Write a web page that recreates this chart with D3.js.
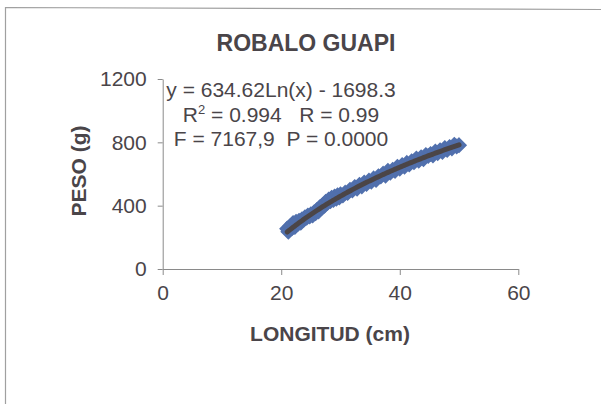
<!DOCTYPE html>
<html>
<head>
<meta charset="utf-8">
<script src="https://cdn.jsdelivr.net/npm/d3@7"></script>
<style>
  html, body { margin: 0; padding: 0; background: #fff; }
  svg { display: block; }
  text { font-family: "Liberation Sans", Arial, sans-serif; fill: #4a4549; }
</style>
</head>
<body>
<svg id="chart" width="601" height="404"></svg>
<script>
// Length (cm) and weight (g) of each measured fish
const longitud = [21, 21.2, 21.5, 21.8, 22, 22.3, 22.5, 22.8, 23, 23.3, 23.5, 23.8, 24, 24.3, 24.5, 24.8,
  25, 25.3, 25.5, 25.8, 26, 26.3, 26.5, 26.8, 27, 27.3, 27.5, 27.8, 28, 28.3, 28.5, 28.8, 29, 29.3, 29.5, 29.8,
  30, 30.4, 30.8, 31.2, 31.6, 32, 32.4, 32.8, 33.2, 33.6, 34, 34.4, 34.8, 35.2, 35.6, 36, 36.4, 36.8, 37.2, 37.6,
  38, 38.4, 38.8, 39.2, 39.6, 40, 40.4, 40.8, 41.2, 41.6, 42, 42.4, 42.8, 43.2, 43.6, 44, 44.4, 44.8, 45.2, 45.6,
  46, 46.4, 46.8, 47.2, 47.6, 48, 48.4, 48.8, 49.2, 49.6, 50];
const peso = [255, 236, 270, 258, 290, 266, 298, 284, 305, 292, 314, 312, 326, 324, 338, 332,
  346, 338, 356, 352, 372, 364, 390, 384, 404, 400, 424, 418, 438, 428, 450, 436, 458, 444, 466, 452,
  472, 464, 482, 480, 500, 496, 518, 508, 532, 522, 546, 538, 558, 552, 572, 562, 586, 584, 602, 590,
  620, 608, 626, 620, 646, 634, 656, 646, 670, 660, 680, 674, 698, 684, 706, 694, 720, 714, 726, 718,
  742, 732, 750, 740, 764, 752, 770, 762, 784, 774, 782];

// Logarithmic fit: y = a*ln(x) + b
const fitA = 634.62;
const fitB = -1698.3;
const statLines = ["y = 634.62Ln(x) - 1698.3", " = 0.994   R = 0.99", "F = 7167,9  P = 0.0000"];

const xTicks = [0, 20, 40, 60];
const yTicks = [0, 400, 800, 1200];

const svg = d3.select("#chart");

const x = d3.scaleLinear().domain([0, 60]).range([162.7, 518.3]);
const y = d3.scaleLinear().domain([0, 1200]).range([269, 79]);

// outer chart frame (left and top edges)
svg.append("path")
  .attr("d", "M5.5,404 L5.5,7.5 L601,9.5")
  .attr("fill", "none").attr("stroke", "#a0a0a0").attr("stroke-width", 1.2);

// title
svg.append("text").attr("x", 306).attr("y", 51)
  .attr("text-anchor", "middle").attr("font-size", 23).attr("font-weight", "bold")
  .text("ROBALO GUAPI");

// axes
const xAxis = d3.axisBottom(x).tickValues(xTicks).tickSize(6).tickSizeOuter(0).tickPadding(10)
  .tickFormat(d3.format("d"));
const yAxis = d3.axisLeft(y).tickValues(yTicks).tickSize(5).tickSizeOuter(0).tickPadding(11)
  .tickFormat(d3.format("d"));

const gx = svg.append("g").attr("transform", `translate(0,${y(0)})`).call(xAxis);
const gy = svg.append("g").attr("transform", `translate(${x(0)},0)`).call(yAxis);

[gx, gy].forEach(g => {
  g.select(".domain").attr("stroke", "#8a8a8a").attr("stroke-width", 1);
  g.selectAll(".tick line").attr("stroke", "#8a8a8a").attr("stroke-width", 1);
  g.selectAll(".tick text").attr("font-size", 21).attr("fill", "#4a4549")
    .attr("font-family", "'Liberation Sans', Arial, sans-serif");
});

// axis titles
svg.append("text").attr("x", 330).attr("y", 341)
  .attr("text-anchor", "middle").attr("font-size", 21).attr("font-weight", "bold")
  .text("LONGITUD (cm)");
svg.append("text")
  .attr("transform", "translate(86,171) rotate(-90)")
  .attr("text-anchor", "middle").attr("font-size", 21).attr("font-weight", "bold")
  .text("PESO (g)");

// observed points as diamonds
const diamond = "M0,-7 L7,0 L0,7 L-7,0Z";
svg.append("g").selectAll("path")
  .data(longitud.map((l, i) => [l, peso[i]]))
  .join("path")
  .attr("d", diamond)
  .attr("transform", d => `translate(${x(d[0])},${y(d[1])})`)
  .attr("fill", "#5170ad").attr("stroke", "#5170ad").attr("stroke-width", 1.5);

// fitted curve over the observed length range
const xMin = d3.min(longitud), xMax = d3.max(longitud);
const curve = d3.range(xMin, xMax + 0.001, 0.25).map(v => [v, fitA * Math.log(v) + fitB]);
svg.append("path")
  .datum(curve)
  .attr("d", d3.line().x(d => x(d[0])).y(d => y(d[1])))
  .attr("fill", "none").attr("stroke", "#4b4547").attr("stroke-width", 5)
  .attr("stroke-linecap", "round");

// regression statistics
const stats = svg.append("g").attr("font-size", 21);
stats.append("text").attr("x", 281).attr("y", 97).attr("text-anchor", "middle").text(statLines[0]);
const l2 = stats.append("text").attr("x", 281).attr("y", 122).attr("text-anchor", "middle")
  .attr("xml:space", "preserve").style("white-space", "pre");
l2.append("tspan").text("R");
l2.append("tspan").attr("font-size", 13).attr("dy", -8).text("2");
l2.append("tspan").attr("dy", 8).text(statLines[1]);
stats.append("text").attr("x", 281).attr("y", 146).attr("text-anchor", "middle")
  .attr("xml:space", "preserve").style("white-space", "pre").text(statLines[2]);
</script>
</body>
</html>
